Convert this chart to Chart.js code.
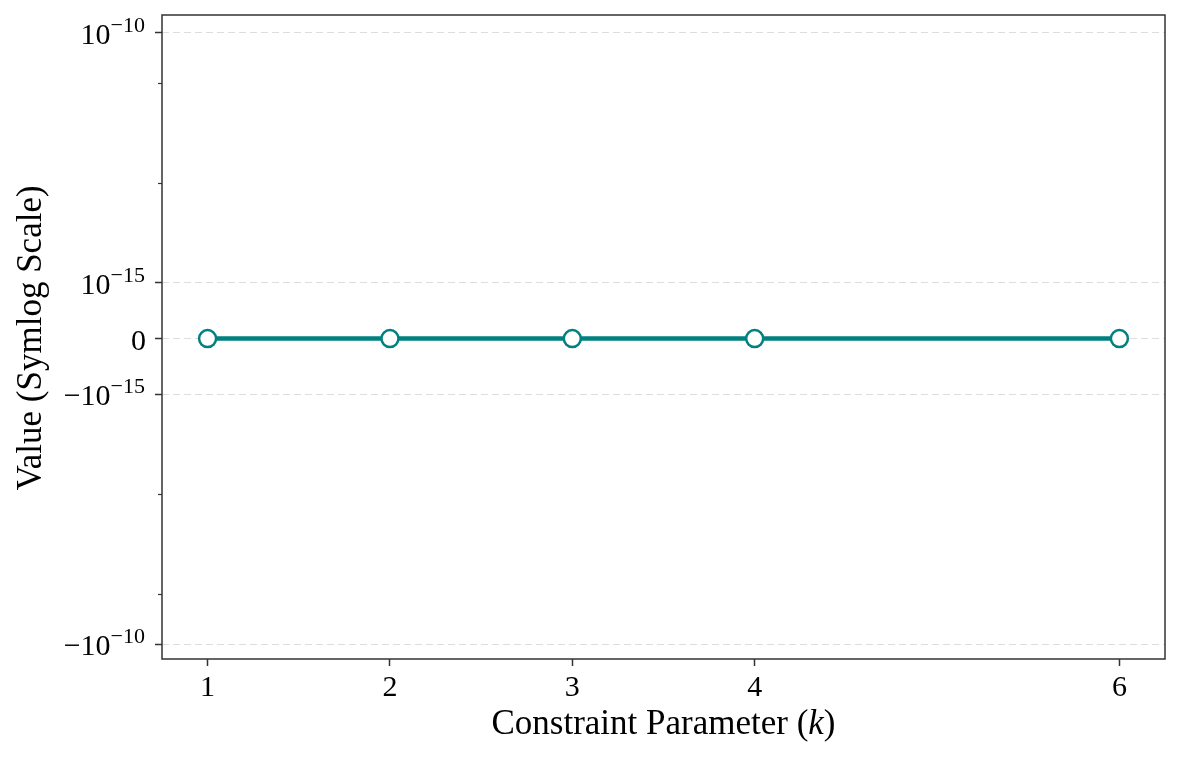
<!DOCTYPE html>
<html>
<head>
<meta charset="utf-8">
<script src="https://cdn.jsdelivr.net/npm/chart.js@4.4.1/dist/chart.umd.min.js"></script>
<style>
  html, body { margin: 0; padding: 0; background: #ffffff; }
  #wrap { width: 1181px; height: 759px; position: relative; }
</style>
</head>
<body>
<div id="wrap"><canvas id="chart"></canvas></div>
<script>
// data
const kValues = [1, 2, 3, 4, 6];
const values = [0, 0, 0, 0, 0];
const yTicks = [-1e-10, -1e-15, 0, 1e-15, 1e-10];
const yMinorTicks = [-1e-11, -1e-13, 1e-13, 1e-11];
const yRange = [-1.96e-10, 2.27e-10];
const xRange = [0.75, 6.25];

const SERIF = "'Liberation Serif', 'Times New Roman', serif";
const TEAL = '#008080';
const LIN_THRESH = 1e-15;
const LIN_SCALE = 1 / (1 - 1 / 10);

function symlog(v) {
  const a = Math.abs(v);
  if (a <= LIN_THRESH) return v / LIN_THRESH * LIN_SCALE;
  return Math.sign(v) * (LIN_SCALE + Math.log10(a / LIN_THRESH));
}
function symexp(t) {
  const a = Math.abs(t);
  if (a <= LIN_SCALE) return t / LIN_SCALE * LIN_THRESH;
  return Math.sign(t) * LIN_THRESH * Math.pow(10, a - LIN_SCALE);
}

// symmetric log scale, like matplotlib's 'symlog'
class SymlogScale extends Chart.LinearScale {
  static id = 'symlog';
  static defaults = {};
  determineDataLimits() {
    this.min = this.options.min;
    this.max = this.options.max;
  }
  buildTicks() {
    return yTicks.map(v => ({ value: v }));
  }
  configure() {
    super.configure();
    this._tMin = symlog(this.min);
    this._tMax = symlog(this.max);
  }
  getPixelForValue(v) {
    return this.getPixelForDecimal((symlog(v) - this._tMin) / (this._tMax - this._tMin));
  }
  getValueForPixel(p) {
    const d = this.getDecimalForPixel(p);
    return symexp(this._tMin + d * (this._tMax - this._tMin));
  }
}
Chart.register(SymlogScale);

// y tick labels with superscript exponents, minor ticks, frame and axis titles
const decorPlugin = {
  id: 'decor',
  afterDraw(chart) {
    const ctx = chart.ctx;
    const area = chart.chartArea;
    const y = chart.scales.y;
    ctx.save();

    // minor ticks
    ctx.strokeStyle = '#333333';
    ctx.lineWidth = 1.2;
    yMinorTicks.forEach(v => {
      const py = Math.round(y.getPixelForValue(v)) + 0.5;
      ctx.beginPath();
      ctx.moveTo(area.left - 4, py);
      ctx.lineTo(area.left, py);
      ctx.stroke();
    });

    // frame
    ctx.strokeStyle = '#333333';
    ctx.lineWidth = 1.5;
    ctx.strokeRect(area.left, area.top, area.right - area.left, area.bottom - area.top);

    // y tick labels
    ctx.fillStyle = '#000000';
    ctx.textBaseline = 'alphabetic';
    ctx.textAlign = 'left';
    const right = 145;
    yTicks.forEach(v => {
      const py = y.getPixelForValue(v);
      const base = py + 11;
      if (v === 0) {
        ctx.font = '30px ' + SERIF;
        ctx.fillText('0', right + 1 - ctx.measureText('0').width, base);
        return;
      }
      const main = (v < 0 ? '\u2212' : '') + '10';
      const exp = '\u2212' + Math.round(-Math.log10(Math.abs(v)));
      ctx.font = '22px ' + SERIF;
      const we = ctx.measureText(exp).width;
      ctx.font = '30px ' + SERIF;
      const wm = ctx.measureText(main).width;
      const x0 = right - we - wm;
      ctx.fillText(main, x0, base);
      ctx.font = '22px ' + SERIF;
      ctx.fillText(exp, x0 + wm, base - 12);
    });

    // x axis title with italic k
    const parts = [
      ['Constraint Parameter (', '35px ' + SERIF],
      ['k', 'italic 35px ' + SERIF],
      [')', '35px ' + SERIF]
    ];
    let total = 0;
    parts.forEach(p => { ctx.font = p[1]; total += ctx.measureText(p[0]).width; });
    let x = (area.left + area.right) / 2 - total / 2;
    parts.forEach(p => {
      ctx.font = p[1];
      ctx.fillText(p[0], x, 734);
      x += ctx.measureText(p[0]).width;
    });

    // y axis title
    ctx.translate(41, (area.top + area.bottom) / 2 + 1);
    ctx.rotate(-Math.PI / 2);
    ctx.textAlign = 'center';
    ctx.font = '35px ' + SERIF;
    ctx.fillText('Value (Symlog Scale)', 0, 0);
    ctx.restore();
  }
};

new Chart(document.getElementById('chart'), {
  type: 'line',
  data: {
    datasets: [{
      label: 'Value',
      data: kValues.map((k, i) => ({ x: k, y: values[i] })),
      borderColor: TEAL,
      borderWidth: 4.5,
      pointRadius: 8.5,
      pointHoverRadius: 8.5,
      pointBorderWidth: 2.5,
      pointBackgroundColor: '#ffffff',
      pointBorderColor: TEAL,
      tension: 0
    }]
  },
  options: {
    responsive: true,
    maintainAspectRatio: false,
    animation: false,
    layout: { padding: { top: 15, right: 16, left: 0, bottom: 0 } },
    plugins: {
      legend: { display: false },
      tooltip: { enabled: false }
    },
    scales: {
      x: {
        type: 'linear',
        min: xRange[0],
        max: xRange[1],
        afterBuildTicks: scale => { scale.ticks = kValues.map(v => ({ value: v })); },
        afterFit: scale => { scale.height = 100; },
        border: { display: false },
        grid: {
          drawOnChartArea: false,
          drawTicks: true,
          tickLength: 7,
          tickColor: '#333333',
          tickWidth: 1.5
        },
        ticks: {
          color: '#000000',
          padding: 4,
          maxRotation: 0,
          font: { family: SERIF, size: 30 }
        }
      },
      y: {
        type: 'symlog',
        min: yRange[0],
        max: yRange[1],
        afterFit: scale => { scale.width = 162; },
        border: { display: false, dash: [7, 4] },
        grid: {
          color: '#dddddd',
          lineWidth: 1,
          drawTicks: true,
          tickLength: 7,
          tickColor: '#333333',
          tickWidth: 1.5,
          tickBorderDash: []
        },
        ticks: { display: false }
      }
    }
  },
  plugins: [decorPlugin]
});
</script>
</body>
</html>
